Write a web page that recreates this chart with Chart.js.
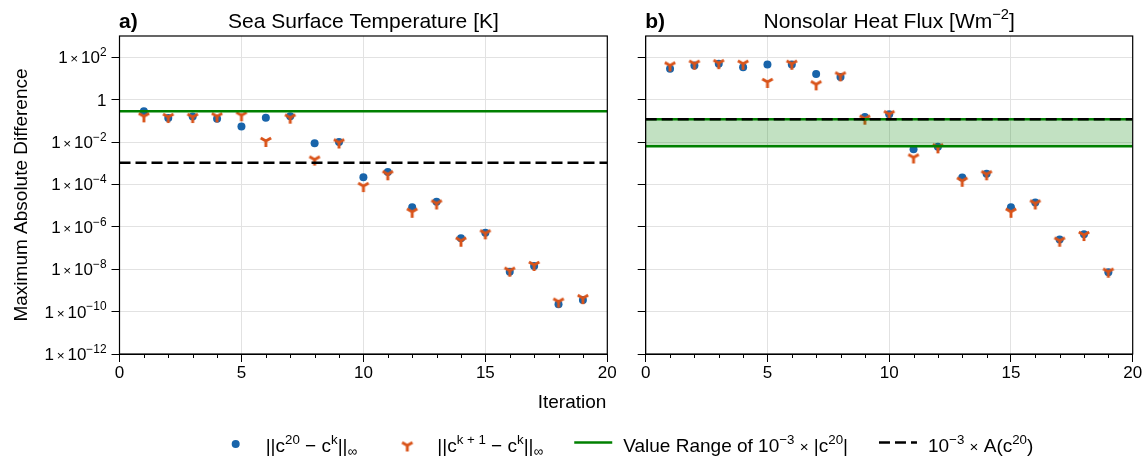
<!DOCTYPE html>
<html>
<head>
<meta charset="utf-8">
<script src="https://cdn.jsdelivr.net/npm/chart.js@4.4.1/dist/chart.umd.min.js"></script>
<style>
    html, body { margin: 0; padding: 0; background: #fff; }
    #wrap { position: relative; width: 1146px; height: 456px; }
    #cA { position: absolute; left: 0; top: 0; }
    #cB { position: absolute; left: 620px; top: 0; }
</style>
</head>
<body>
<div id="wrap">
    <canvas id="cA" width="1146" height="456"></canvas>
    <canvas id="cB" width="526" height="456"></canvas>
</div>
<script>
(function () {
    'use strict';

    // ---- data ----
    const ITER = [1, 2, 3, 4, 5, 6, 7, 8, 9, 10, 11, 12, 13, 14, 15, 16, 17, 18, 19];

    // Sea surface temperature
    const SST_FINAL = [0.28, 0.135, 0.158, 0.126, 0.054, 0.141, 0.162, 8.7e-3, 1.0e-2, 2.2e-4,
                       3.8e-4, 8.3e-6, 1.5e-5, 2.9e-7, 5.2e-7, 7.6e-9, 1.4e-8, 2.2e-10, 3.5e-10];
    const SST_STEP  = [0.162, 0.151, 0.151, 0.162, 0.182, 1.12e-2, 0.141, 1.48e-3, 9.5e-3, 8.3e-5,
                       3.0e-4, 5.1e-6, 1.26e-5, 2.2e-7, 4.9e-7, 8.5e-9, 1.58e-8, 2.95e-10, 4.3e-10];
    const SST_RANGE = 0.28;
    const SST_A     = 1.05e-3;

    // Nonsolar heat flux
    const HF_FINAL = [28.8, 40.7, 49, 33.9, 44.7, 44.7, 16.2, 11.5, 0.151, 0.204,
                      4.5e-3, 5.9e-3, 2.14e-4, 3.2e-4, 8.3e-6, 1.41e-5, 2.5e-7, 4.5e-7, 7.1e-9];
    const HF_STEP  = [40.7, 49, 52.5, 49, 6.8, 49, 5.25, 13.8, 0.126, 0.204,
                      1.86e-3, 5.6e-3, 1.48e-4, 3.0e-4, 5.1e-6, 1.26e-5, 2.2e-7, 4.1e-7, 7.6e-9];
    const HF_RANGE_LO = 6.3e-3;
    const HF_RANGE_HI = 0.118;
    const HF_A        = 0.118;

    const X_TICKS = [0, 5, 10, 15, 20];
    const X_MINOR = [1, 2, 3, 4, 6, 7, 8, 9, 11, 12, 13, 14, 16, 17, 18, 19];
    const Y_EXP   = [-12, -10, -8, -6, -4, -2, 0, 2];

    // ---- style ----
    const FAMILY = '"Liberation Sans", Arial, sans-serif';
    const BLUE   = '#1864aa';
    const ORANGE = '#d95319';
    const GREEN  = '#008000';
    const GRID   = '#e2e2e2';

    const font = (size, bold) => (bold ? 'bold ' : '') + size + 'px ' + FAMILY;

    // rich text: parts = [[text, mode]], mode: undefined | 'sup' | 'sub' | 'op'
    function partStyle(mode, size) {
        if (mode === 'sup') return { s: size * 0.7, dy: -size * 0.42 };
        if (mode === 'sub') return { s: size * 0.72, dy: size * 0.22 };
        if (mode === 'op')  return { s: size * 0.8, dy: 0 };
        return { s: size, dy: 0 };
    }
    function richWidth(ctx, parts, size) {
        let w = 0;
        parts.forEach(p => {
            const st = partStyle(p[1], size);
            ctx.font = font(st.s);
            w += ctx.measureText(p[0]).width;
        });
        return w;
    }
    function drawRich(ctx, parts, x, y, size, align) {
        const w = richWidth(ctx, parts, size);
        let cx = align === 'right' ? x - w : align === 'center' ? x - w / 2 : x;
        ctx.save();
        ctx.fillStyle = '#000';
        ctx.textAlign = 'left';
        ctx.textBaseline = 'alphabetic';
        parts.forEach(p => {
            const st = partStyle(p[1], size);
            ctx.font = font(st.s);
            ctx.fillText(p[0], cx, y + st.dy);
            cx += ctx.measureText(p[0]).width;
        });
        ctx.restore();
        return w;
    }

    function yTickParts(e) {
        if (e === 0) return [['1']];
        return [['1'], ['\u2009×\u2009', 'op'], ['10'], [String(e).replace('-', '−'), 'sup']];
    }

    // tri_down marker (matplotlib "1")
    function triMarker(size, color) {
        const c = document.createElement('canvas');
        c.width = size; c.height = size;
        const g = c.getContext('2d');
        const m = size / 2, r = 6;
        g.strokeStyle = color;
        g.lineWidth = 2.9;
        g.lineCap = 'butt';
        g.beginPath();
        g.moveTo(m, m); g.lineTo(m, m + r);
        g.moveTo(m, m); g.lineTo(m - r * 0.866, m - r * 0.5);
        g.moveTo(m, m); g.lineTo(m + r * 0.866, m - r * 0.5);
        g.stroke();
        return c;
    }
    const TRI = triMarker(16, ORANGE);

    const pts = (vals) => ITER.map((x, i) => ({ x: x, y: vals[i] }));
    const hline = (v) => [{ x: 0, y: v }, { x: 20, y: v }];

    function scaleOpts(yWidth) {
        return {
            x: {
                type: 'linear', min: 0, max: 20,
                afterBuildTicks: s => { s.ticks = X_TICKS.map(v => ({ value: v })); },
                afterFit: s => { s.height = 40; },
                grid: { color: GRID, lineWidth: 1, tickLength: 8, tickColor: '#000', tickWidth: 1 },
                border: { color: '#000', width: 1 },
                ticks: { color: '#000', font: { family: FAMILY, size: 17 }, padding: 1, maxRotation: 0, autoSkip: false }
            },
            y: {
                type: 'logarithmic', min: 1e-12, max: 1e3,
                afterBuildTicks: s => { s.ticks = Y_EXP.map(e => ({ value: Number('1e' + e) })); },
                afterFit: s => { s.width = yWidth; },
                grid: { color: GRID, lineWidth: 1, tickLength: 8, tickColor: '#000', tickWidth: 1 },
                border: { color: '#000', width: 1 },
                ticks: { display: false }
            }
        };
    }

    function decorPlugin(cfg) {
        return {
            id: 'decor',
            afterDraw(chart) {
                const ctx = chart.ctx;
                const a = chart.chartArea;
                const xs = chart.scales.x, ys = chart.scales.y;
                ctx.save();
                // frame
                ctx.strokeStyle = '#000';
                ctx.lineWidth = 1.2;
                ctx.strokeRect(a.left, a.top, a.right - a.left, a.bottom - a.top);
                // minor x ticks
                ctx.lineWidth = 1;
                ctx.beginPath();
                X_MINOR.forEach(v => {
                    const px = Math.round(xs.getPixelForValue(v)) + 0.5;
                    ctx.moveTo(px, a.bottom);
                    ctx.lineTo(px, a.bottom + 4);
                });
                ctx.stroke();
                ctx.restore();

                // y tick labels
                if (cfg.yLabels) {
                    Y_EXP.forEach(e => {
                        const py = ys.getPixelForValue(Number('1e' + e));
                        drawRich(ctx, yTickParts(e), a.left - 13, py + 6, 17, 'right');
                    });
                }
                // panel title
                ctx.save();
                ctx.fillStyle = '#000';
                ctx.font = font(21, true);
                ctx.textAlign = 'left';
                ctx.fillText(cfg.tag, a.left - 0.5, 28);
                ctx.restore();
                drawRich(ctx, cfg.title, (a.left + a.right) / 2, 28, 21, 'center');

                if (cfg.extra) cfg.extra(chart);
            }
        };
    }

    const LEGEND = [
        { handle: 'dot',  parts: [['||c'], ['20', 'sup'], [' − c'], ['k', 'sup'], ['||'], ['∞', 'sub']] },
        { handle: 'tri',  parts: [['||c'], ['k + 1', 'sup'], [' − c'], ['k', 'sup'], ['||'], ['∞', 'sub']] },
        { handle: 'line', parts: [['Value Range of 10'], ['−3', 'sup'], [' '], ['×', 'op'], [' |c'], ['20', 'sup'], ['|']] },
        { handle: 'dash', parts: [['10'], ['−3', 'sup'], [' '], ['×', 'op'], [' A(c'], ['20', 'sup'], [')']] }
    ];

    function drawFigureText(chart) {
        const ctx = chart.ctx;
        // axis titles
        ctx.save();
        ctx.fillStyle = '#000';
        ctx.font = font(19);
        ctx.textAlign = 'center';
        ctx.textBaseline = 'alphabetic';
        ctx.fillText('Iteration', 572, 408);
        ctx.translate(27, 195);
        ctx.rotate(-Math.PI / 2);
        ctx.fillText('Maximum Absolute Difference', 0, 0);
        ctx.restore();

        // legend
        const size = 19, hw = 38, pad = 11, gap = 31, base = 451.5, my = 443.5;
        const widths = LEGEND.map(it => richWidth(ctx, it.parts, size));
        const total = widths.reduce((s, w) => s + w + hw + pad, 0) + gap * (LEGEND.length - 1);
        let x = 625 - total / 2;
        LEGEND.forEach((it, i) => {
            ctx.save();
            const cx = x + hw / 2;
            if (it.handle === 'dot') {
                ctx.fillStyle = BLUE;
                ctx.beginPath(); ctx.arc(cx, my + 0.5, 4, 0, Math.PI * 2); ctx.fill();
            } else if (it.handle === 'tri') {
                ctx.drawImage(TRI, cx - TRI.width / 2, my + 2 - TRI.height / 2);
            } else {
                ctx.strokeStyle = it.handle === 'line' ? GREEN : '#000';
                ctx.lineWidth = 2.6;
                if (it.handle === 'dash') ctx.setLineDash([11, 5]);
                ctx.beginPath(); ctx.moveTo(x, my - 1); ctx.lineTo(x + hw, my - 1); ctx.stroke();
            }
            ctx.restore();
            drawRich(ctx, it.parts, x + hw + pad, base, size, 'left');
            x += hw + pad + widths[i] + gap;
        });
    }

    function baseOptions(padding, yWidth) {
        return {
            responsive: false,
            devicePixelRatio: 1,
            animation: false,
            events: [],
            layout: { padding: padding },
            plugins: { legend: { display: false }, tooltip: { enabled: false } },
            scales: scaleOpts(yWidth)
        };
    }

    const markerSets = (finalVals, stepVals) => [
        {
            data: pts(finalVals), showLine: false, order: 3,
            pointStyle: 'circle', pointRadius: 4, pointBorderWidth: 0,
            pointBackgroundColor: BLUE, borderColor: BLUE
        },
        {
            data: pts(stepVals), showLine: false, order: 2,
            pointStyle: TRI, pointRadius: 6, pointBorderWidth: 0,
            pointBackgroundColor: ORANGE, borderColor: ORANGE
        }
    ];

    // ---- left panel: SST ----
    new Chart(document.getElementById('cA').getContext('2d'), {
        type: 'line',
        data: {
            datasets: markerSets(SST_FINAL, SST_STEP).concat([
                { data: hline(SST_RANGE), borderColor: GREEN, borderWidth: 2.6, pointRadius: 0, fill: false, order: 1 },
                { data: hline(SST_A), borderColor: '#000', borderWidth: 2.6, borderDash: [11, 5], pointRadius: 0, fill: false, order: 0 }
            ])
        },
        options: baseOptions({ left: 0, top: 36, right: 538.7, bottom: 456 - 354 - 40 }, 119.5),
        plugins: [decorPlugin({
            yLabels: true, tag: 'a)',
            title: [['Sea Surface Temperature [K]']],
            extra: drawFigureText
        })]
    });

    // ---- right panel: nonsolar heat flux ----
    new Chart(document.getElementById('cB').getContext('2d'), {
        type: 'line',
        data: {
            datasets: markerSets(HF_FINAL, HF_STEP).concat([
                { data: hline(HF_RANGE_LO), borderColor: GREEN, borderWidth: 2.6, pointRadius: 0, fill: false, order: 1 },
                { data: hline(HF_RANGE_HI), borderColor: GREEN, borderWidth: 2.6, pointRadius: 0,
                  fill: 2, backgroundColor: 'rgba(0,128,0,0.24)', order: 1 },
                { data: hline(HF_A), borderColor: '#000', borderWidth: 2.6, borderDash: [11, 5], pointRadius: 0, fill: false, order: 0 }
            ])
        },
        options: baseOptions({ left: 0, top: 36, right: 13.3, bottom: 456 - 354 - 40 }, 25.7),
        plugins: [decorPlugin({
            yLabels: false, tag: 'b)',
            title: [['Nonsolar Heat Flux [Wm'], ['−2', 'sup'], [']']]
        })]
    });
}());
</script>
</body>
</html>
